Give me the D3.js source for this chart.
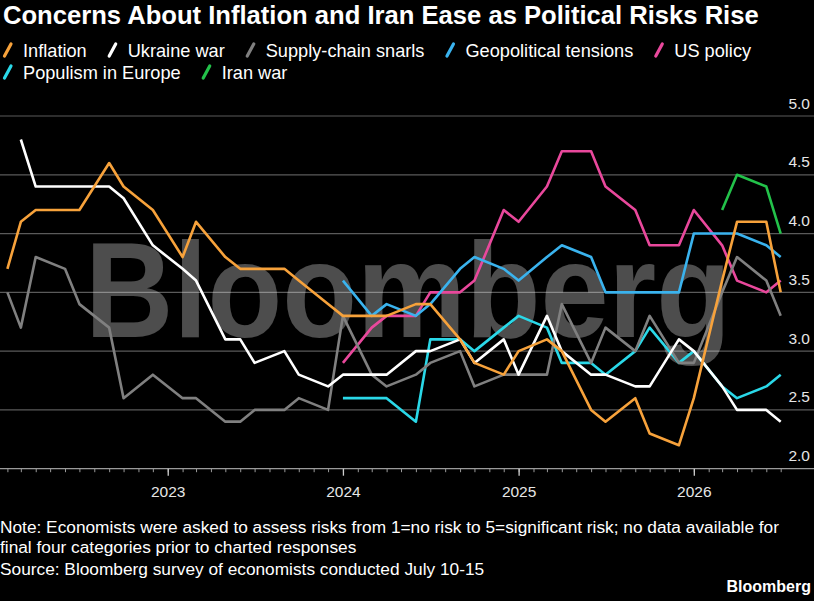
<!DOCTYPE html>
<html><head><meta charset="utf-8">
<script src="https://cdn.jsdelivr.net/npm/d3@7/dist/d3.min.js"></script>
<style>
html,body{margin:0;padding:0;background:#000;}
svg{display:block;}
</style></head>
<body>
<svg id="chart" width="814" height="601"></svg>
<script>
// ---------- DATA ----------
const surveyMonths = ["2022-02","2022-03","2022-04","2022-06","2022-07","2022-09","2022-10","2022-12",
  "2023-02","2023-03","2023-05","2023-06","2023-07","2023-09","2023-10","2023-12",
  "2024-01","2024-03","2024-04","2024-06","2024-07","2024-09","2024-10","2024-12",
  "2025-01","2025-03","2025-04","2025-06","2025-07","2025-09","2025-10","2025-12",
  "2026-01","2026-03","2026-04","2026-06","2026-07"];
const seriesNames = ["Inflation","Ukraine war","Supply-chain snarls","Geopolitical tensions","US policy","Populism in Europe","Iran war"];
const seriesColors = ["#f7a23b","#ffffff","#808080","#3ab3ee","#e9489c","#2ad8e8","#23c24a"];
const inflation = [3.7,4.1,4.2,4.2,4.2,4.6,4.4,4.2, 3.8,4.1,3.8,3.7,3.7,3.7,3.6,3.4, 3.3,3.3,3.3,3.4,3.4,3.1,2.9,2.8, 3.0,3.1,3.0,2.5,2.4,2.6,2.3,2.2, 2.6,3.6,4.1,4.1,3.5];
const ukraineWar = [null,4.8,4.4,4.4,4.4,4.4,4.3,3.9, 3.7,3.6,3.1,3.1,2.9,3.0,2.8,2.7, 2.8,2.8,2.8,3.0,3.0,3.1,2.9,3.1, 2.8,3.3,3.0,2.8,2.8,2.7,2.7,3.1, 3.0,2.7,2.5,2.5,2.4];
const supplyChain = [3.5,3.2,3.8,3.7,3.4,3.2,2.6,2.8, 2.6,2.6,2.4,2.4,2.5,2.5,2.6,2.5, 3.3,2.8,2.7,2.8,2.9,3.0,2.7,2.8, 2.8,2.8,3.4,2.9,3.2,3.0,3.3,2.9, 2.9,3.5,3.8,3.6,3.3];
const geopolitical = [null,null,null,null,null,null,null,null, null,null,null,null,null,null,null,null, 3.6,3.3,3.4,3.3,3.4,3.7,3.8,3.7, 3.6,3.8,3.9,3.8,3.5,3.5,3.5,3.5, 4.0,4.0,4.0,3.9,3.8];
const usPolicy = [null,null,null,null,null,null,null,null, null,null,null,null,null,null,null,null, 2.9,3.2,3.3,3.3,3.5,3.5,3.6,4.2, 4.1,4.4,4.7,4.7,4.4,4.2,3.9,3.9, 4.2,3.9,3.6,3.5,3.6];
const populism = [null,null,null,null,null,null,null,null, null,null,null,null,null,null,null,null, 2.6,2.6,2.6,2.4,3.1,3.1,3.0,3.2, 3.3,3.2,2.9,2.9,2.8,3.0,3.2,2.9, 3.0,2.7,2.6,2.7,2.8];
const iranWar = [null,null,null,null,null,null,null,null, null,null,null,null,null,null,null,null, null,null,null,null,null,null,null,null, null,null,null,null,null,null,null,null, null,4.2,4.5,4.4,4.0];
const yTicks = [2.0,2.5,3.0,3.5,4.0,4.5,5.0];
const titleText = "Concerns About Inflation and Iran Ease as Political Risks Rise";
const noteLines = ["Note: Economists were asked to assess risks from 1=no risk to 5=significant risk; no data available for",
  "final four categories prior to charted responses",
  "Source: Bloomberg survey of economists conducted July 10-15"];

// ---------- BUILD ----------
const allValues = [inflation, ukraineWar, supplyChain, geopolitical, usPolicy, populism, iranWar];
const parse = d3.timeParse("%Y-%m");
const dates = surveyMonths.map(parse);
const series = seriesNames.map((name,i)=>({name, color:seriesColors[i],
  points: dates.map((d,j)=>({date:d, value:allValues[i][j]}))}));

const FONT = "'Liberation Sans', Arial, sans-serif";
const svg = d3.select("#chart");
svg.append("rect").attr("width",814).attr("height",601).attr("fill","#000");

const x = d3.scaleTime().domain([parse("2022-02"), parse("2026-07")]).range([7.4, 780.7]);
const y = d3.scaleLinear().domain([2,5]).range([468.7,116]);

// title
svg.append("text").attr("x",3).attr("y",24).attr("fill","#fff")
  .attr("font-family",FONT).attr("font-weight","bold").attr("font-size",25.6)
  .text(titleText);

// legend
const legend = svg.append("g").attr("font-family",FONT).attr("font-size",18.2).attr("fill","#fff");
let lx = 3, row = 0;
const rowBase = [57, 79];
series.forEach((s,i)=>{
  if (i===5){ lx = 3; row = 1; }
  const b = rowBase[row];
  legend.append("line").attr("x1",lx+1.5).attr("y1",b-1).attr("x2",lx+8).attr("y2",b-13)
    .attr("stroke",s.color).attr("stroke-width",3.2).attr("stroke-linecap","round");
  const t = legend.append("text").attr("x",lx+20).attr("y",b).text(s.name);
  const w = t.node().getComputedTextLength();
  lx = lx + 20 + w + 21;
});

// gridlines
svg.append("g").selectAll("line").data(yTicks.filter(v=>v>2)).join("line")
  .attr("x1",0).attr("x2",814).attr("y1",d=>y(d)).attr("y2",d=>y(d))
  .attr("stroke","#5a5a5a").attr("stroke-width",1.2);

// watermark
svg.append("text").attr("transform","translate(85,337) scale(0.9,1)").attr("fill","#fff").attr("fill-opacity",0.3)
  .attr("font-family",FONT).attr("font-weight","bold").attr("font-size",136)
  .text("Bloomberg");

// y labels
const yAxis = svg.append("g").attr("transform","translate(810,0)")
  .call(d3.axisLeft(y).tickValues(yTicks).tickFormat(d3.format(".1f")).tickSize(0).tickPadding(0));
yAxis.select(".domain").remove();
yAxis.selectAll("text").attr("dy",null).attr("y",-8).attr("fill","#e6e6e6")
  .attr("font-family",FONT).attr("font-size",15.5);

// x axis
const axisY = y(2);
svg.append("line").attr("x1",0).attr("x2",814).attr("y1",axisY).attr("y2",axisY)
  .attr("stroke","#9a9a9a").attr("stroke-width",1.2);
const minor = svg.append("g").attr("transform",`translate(0,${axisY})`)
  .call(d3.axisBottom(x).ticks(d3.timeMonth.every(1)).tickSize(3.5).tickFormat(""));
minor.select(".domain").remove();
minor.selectAll("line").attr("stroke","#9a9a9a");
const major = svg.append("g").attr("transform",`translate(0,${axisY})`)
  .call(d3.axisBottom(x).ticks(d3.timeYear.every(1)).tickSize(7).tickPadding(10).tickFormat(d3.timeFormat("%Y")));
major.select(".domain").remove();
major.selectAll("line").attr("stroke","#cfcfcf").attr("stroke-width",1.3);
major.selectAll("text").attr("fill","#e6e6e6").attr("font-family",FONT).attr("font-size",15.5);

// lines
const line = d3.line().defined(d=>d.value!=null).x(d=>x(d.date)).y(d=>y(d.value)).curve(d3.curveLinear);
svg.append("g").selectAll("path").data(series.slice().reverse()).join("path")
  .attr("d",d=>line(d.points)).attr("fill","none").attr("stroke",d=>d.color)
  .attr("stroke-width",2.6).attr("stroke-linejoin","round");

// footnotes
const notes = svg.append("g").attr("font-family",FONT).attr("font-size",17.3).attr("fill","#fff");
[533,553,575].forEach((b,i)=> notes.append("text").attr("x",0).attr("y",b).text(noteLines[i]));
svg.append("text").attr("x",811).attr("y",592).attr("text-anchor","end").attr("fill","#fff")
  .attr("font-family",FONT).attr("font-weight","bold").attr("font-size",16).text("Bloomberg");
</script>
</body></html>
